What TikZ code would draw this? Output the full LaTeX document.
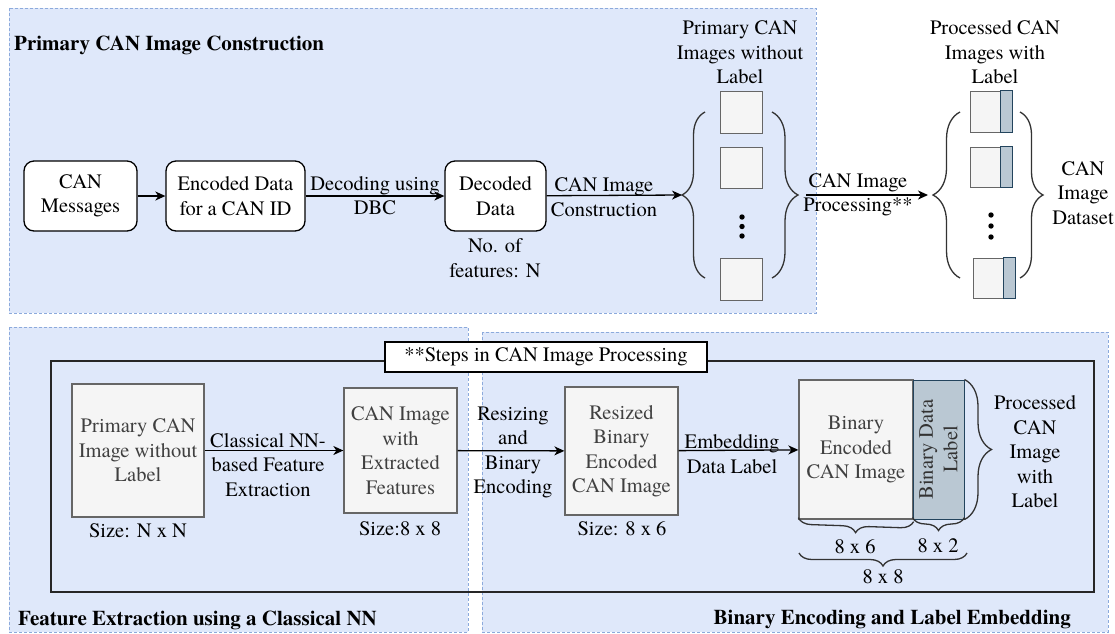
\documentclass[tikz,border=0pt]{standalone}
\usepackage{fontspec}
\setmainfont{TeX Gyre Termes}
\usetikzlibrary{arrows.meta,decorations.pathreplacing}
\definecolor{regfill}{RGB}{223,232,250}
\definecolor{regline}{RGB}{140,170,220}
\definecolor{gfill}{HTML}{F5F5F5}
\definecolor{gline}{HTML}{666666}
\definecolor{gtext}{HTML}{404040}
\definecolor{sfill}{HTML}{BAC8D3}
\definecolor{sline}{HTML}{23445D}
\begin{document}
\begin{tikzpicture}[x=1pt,y=-1pt,
  every node/.style={font=\fontsize{20.5}{24.5}\selectfont, inner sep=0pt, align=center},
  region/.style={draw=regline, fill=regfill, dash pattern=on 3pt off 2pt, line width=0.8pt},
  rbox/.style={draw=black, fill=white, rounded corners=10pt, line width=1.3pt, minimum width=#1, minimum height=70pt},
  gbox/.style 2 args={draw=gline, fill=gfill, line width=1.3pt, text=gtext, minimum width=#1, minimum height=#2},
  sq/.style 2 args={draw=gline, fill=gfill, line width=1pt, minimum width=#1, minimum height=#2},
  stripbox/.style={draw=sline, fill=sfill, line width=1pt},
  arr/.style={-{Stealth[length=10pt,width=9pt,inset=3pt]}, line width=1.3pt},
  brc/.style={decorate, decoration={brace, amplitude=#1}, line width=1.3pt, draw=black!80},
  title/.style={font=\fontsize{21}{25}\selectfont\bfseries},
  dot/.style={fill=black}
]
\useasboundingbox (0,0) rectangle (1115,633);

% regions
\draw[region] (9,8) rectangle (816,313);
\draw[region] (9,327) rectangle (468,632);
\draw[region] (482,332) rectangle (1108,632);

\node[title, anchor=base west] (t1) at (14,50) {Primary CAN Image Construction};
\node[title, anchor=base west] (t2) at (18,625) {Feature Extraction using a Classical NN};
\node[title, anchor=base east] (t3) at (1071,624) {Binary Encoding and Label Embedding};

% top row boxes
\node[rbox=113pt] (msg) at (80.5,196) {CAN\\Messages};
\node[rbox=139pt] (enc) at (235.5,196) {Encoded Data\\for a CAN ID};
\node[rbox=101pt] (dec) at (495.5,196) {Decoded\\Data};
\node (nf) at (495,258) {No. of\\features: N};

% primary images
\node (ptitle) at (740,52.5) {Primary CAN\\Images without\\Label};
\node[sq={42pt}{42pt}] (sq1) at (741,112) {};
\node[sq={42pt}{41pt}] (sq2) at (741,167.5) {};
\node[sq={42pt}{42pt}] (sq3) at (741,279) {};
\fill[dot] (742,217) circle (2.7pt) (742,226.5) circle (2.7pt) (742,236) circle (2.7pt);
\draw[brc=23pt] (705,278) -- (705,112);
\draw[brc=26pt] (772,112) -- (772,278);
\coordinate (b1tip) at (682,195);
\coordinate (b2tip) at (798,195);

% processed images
\node (qtitle) at (995,52.5) {Processed CAN\\Images with\\Label};
\node[sq={42pt}{41pt}] (rs1) at (991,111.5) {};
\draw[stripbox] (rs1.north east) ++(-12,0) rectangle (rs1.south east);
\node[sq={42pt}{40pt}] (rs2) at (991,167) {};
\draw[stripbox] (rs2.north east) ++(-12,0) rectangle (rs2.south east);
\node[sq={42pt}{40pt}] (rs3) at (994,278) {};
\draw[stripbox] (rs3.north east) ++(-12,0) rectangle (rs3.south east);
\fill[dot] (991,215) circle (2.7pt) (991,226) circle (2.7pt) (991,237) circle (2.7pt);
\draw[brc=27pt] (960,278) -- (960,112);
\draw[brc=23pt] (1020,112) -- (1020,278);
\coordinate (b3tip) at (933,195);
\node (ds) at (1083,193) {CAN\\Image\\Dataset};

% top arrows
\draw[arr] (msg) -- (enc);
\draw[arr] (enc) -- (dec);
\node (l1) at (375,195.5) {Decoding using\\DBC};
\draw[arr] (dec) -- (b1tip);
\node (l2) at (604,197) {CAN Image\\Construction};
\draw[arr] (b2tip) ++(8,0) coordinate (a3s) -- ([xshift=-5pt]b3tip);
\node (l3) at (858,195) {CAN Image\\Processing**};

% bottom frame
\draw[line width=1.5pt, draw=black!85] (51,361) rectangle (1094,592);
\node[draw=black, fill=white, line width=1.3pt, minimum width=322pt, minimum height=30pt] (steps) at (546,357) {**Steps in CAN Image Processing};

\node[gbox={132pt}{133pt}] (p1) at (138,450.5) {Primary CAN\\Image without\\Label};
\node[gbox={113pt}{125pt}] (p2) at (400.5,450.5) {CAN Image\\with\\Extracted\\Features};
\node[gbox={113pt}{128pt}] (p3) at (621.5,451) {Resized\\Binary\\Encoded\\CAN Image};
\node[gbox={114pt}{139pt}] (p4) at (856,449.5) {Binary\\Encoded\\CAN Image};
\node[stripbox, minimum width=51pt, minimum height=139pt] (strip) at (938.5,449.5) {};
\node[rotate=90, text=black!80] (striptxt) at (strip.center) {Binary Data\\Label};

\node[anchor=base] (s1) at (138,537) {Size: N x N};
\node[anchor=base] (s2) at (400,535) {Size:8 x 8};
\node[anchor=base] (s3) at (622,535) {Size: 8 x 6};

\draw[arr] (p1) -- (p2);
\node (l4) at (268,465) {Classical NN-\\based Feature\\Extraction};
\draw[arr] (p2) -- (p3);
\node (l5) at (513,452.5) {Resizing\\and\\Binary\\Encoding};
\draw[arr] (p3) -- (p4);
\node (l6) at (732,454) {Embedding\\Data Label};

\draw[brc=13pt] (p4.south east) ++(0,2) coordinate (c1) -- ([yshift=2pt]p4.south west);
\draw[brc=13pt] ([yshift=2pt]strip.south east) -- ([yshift=2pt]strip.south west);
\draw[brc=13pt] (967,553) -- (799,553);
\node[anchor=base] (d1) at (855,553) {8 x 6};
\node[anchor=base] (d2) at (938,552) {8 x 2};
\node[anchor=base] (d3) at (883,583) {8 x 8};

\draw[brc=27pt] (strip.north east) -- (strip.south east);
\node (pc) at (1035,452) {Processed\\CAN\\Image\\with\\Label};
\end{tikzpicture}
\end{document}
